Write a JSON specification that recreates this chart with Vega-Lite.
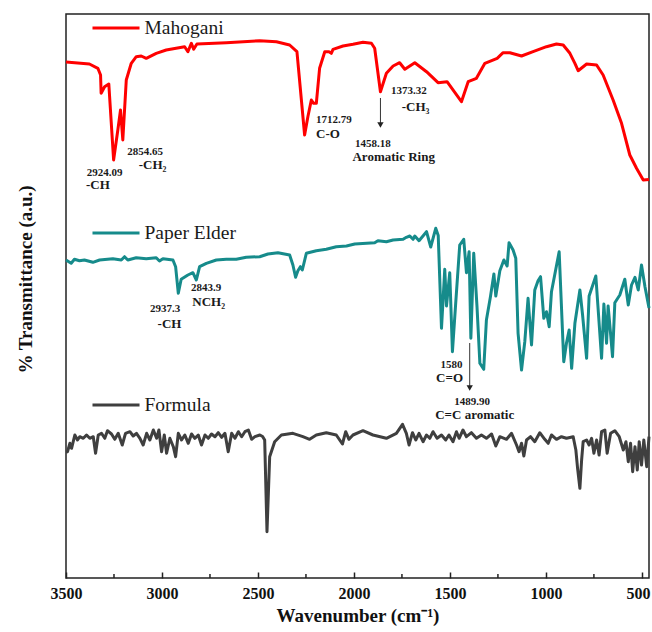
{
  "$schema": "https://vega.github.io/schema/vega-lite/v6.json",
  "width": 583,
  "height": 564,
  "autosize": {"type": "none"},
  "padding": {"left": 66, "top": 14, "right": 3, "bottom": 54},
  "background": "white",
  "config": {
    "view": {"stroke": "#222", "strokeWidth": 1.5},
    "font": "Liberation Serif"
  },
  "datasets": {
    "spec": [
      {"s":"Mahogani","w":3500,"t":516},{"s":"Mahogani","w":3378,"t":514},{"s":"Mahogani","w":3334,"t":509.7},{"s":"Mahogani","w":3320,"t":503},{"s":"Mahogani","w":3317,"t":484.7},{"s":"Mahogani","w":3299,"t":491.3},{"s":"Mahogani","w":3277,"t":494},{"s":"Mahogani","w":3252,"t":418},{"s":"Mahogani","w":3230,"t":448},{"s":"Mahogani","w":3216,"t":468},{"s":"Mahogani","w":3204,"t":438},{"s":"Mahogani","w":3186,"t":498},{"s":"Mahogani","w":3160,"t":514.7},{"s":"Mahogani","w":3134,"t":521.3},{"s":"Mahogani","w":3108,"t":522},{"s":"Mahogani","w":3082,"t":519.7},{"s":"Mahogani","w":3030,"t":524.7},{"s":"Mahogani","w":2978,"t":528},{"s":"Mahogani","w":2882,"t":531.3},{"s":"Mahogani","w":2865,"t":526.3},{"s":"Mahogani","w":2847,"t":534.7},{"s":"Mahogani","w":2835,"t":528.7},{"s":"Mahogani","w":2818,"t":534},{"s":"Mahogani","w":2665,"t":535.3},{"s":"Mahogani","w":2491,"t":537.3},{"s":"Mahogani","w":2404,"t":536.3},{"s":"Mahogani","w":2335,"t":533},{"s":"Mahogani","w":2297,"t":526.3},{"s":"Mahogani","w":2257,"t":443},{"s":"Mahogani","w":2240,"t":461.3},{"s":"Mahogani","w":2222,"t":478},{"s":"Mahogani","w":2210,"t":474.7},{"s":"Mahogani","w":2196,"t":474.7},{"s":"Mahogani","w":2179,"t":509.7},{"s":"Mahogani","w":2152,"t":526.3},{"s":"Mahogani","w":2130,"t":526.3},{"s":"Mahogani","w":2118,"t":524.7},{"s":"Mahogani","w":2109,"t":528.7},{"s":"Mahogani","w":2057,"t":532},{"s":"Mahogani","w":2005,"t":533.7},{"s":"Mahogani","w":1953,"t":535.7},{"s":"Mahogani","w":1909,"t":534.7},{"s":"Mahogani","w":1892,"t":529.7},{"s":"Mahogani","w":1862,"t":486.3},{"s":"Mahogani","w":1831,"t":504.7},{"s":"Mahogani","w":1796,"t":512},{"s":"Mahogani","w":1762,"t":515.3},{"s":"Mahogani","w":1735,"t":508.7},{"s":"Mahogani","w":1683,"t":515.3},{"s":"Mahogani","w":1622,"t":506.3},{"s":"Mahogani","w":1562,"t":495.3},{"s":"Mahogani","w":1515,"t":496.3},{"s":"Mahogani","w":1440,"t":476.3},{"s":"Mahogani","w":1405,"t":496.3},{"s":"Mahogani","w":1362,"t":499.7},{"s":"Mahogani","w":1318,"t":514.7},{"s":"Mahogani","w":1254,"t":519.7},{"s":"Mahogani","w":1223,"t":525.3},{"s":"Mahogani","w":1188,"t":525.3},{"s":"Mahogani","w":1127,"t":522},{"s":"Mahogani","w":1067,"t":526.3},{"s":"Mahogani","w":997,"t":531.3},{"s":"Mahogani","w":945,"t":534},{"s":"Mahogani","w":910,"t":533},{"s":"Mahogani","w":875,"t":524.7},{"s":"Mahogani","w":849,"t":514.7},{"s":"Mahogani","w":832,"t":507.3},{"s":"Mahogani","w":788,"t":514},{"s":"Mahogani","w":736,"t":513},{"s":"Mahogani","w":702,"t":503},{"s":"Mahogani","w":650,"t":478},{"s":"Mahogani","w":606,"t":454.7},{"s":"Mahogani","w":563,"t":423},{"s":"Mahogani","w":528,"t":409.7},{"s":"Mahogani","w":493,"t":398},{"s":"Mahogani","w":463,"t":398.5},
      {"s":"Paper Elder","w":3500,"t":318},{"s":"Paper Elder","w":3473,"t":314.7},{"s":"Paper Elder","w":3456,"t":318.7},{"s":"Paper Elder","w":3430,"t":317.3},{"s":"Paper Elder","w":3404,"t":318},{"s":"Paper Elder","w":3360,"t":315.7},{"s":"Paper Elder","w":3325,"t":318},{"s":"Paper Elder","w":3256,"t":319.3},{"s":"Paper Elder","w":3212,"t":318},{"s":"Paper Elder","w":3195,"t":321.3},{"s":"Paper Elder","w":3178,"t":318},{"s":"Paper Elder","w":3134,"t":320.3},{"s":"Paper Elder","w":3082,"t":319.3},{"s":"Paper Elder","w":3030,"t":320.3},{"s":"Paper Elder","w":3013,"t":317},{"s":"Paper Elder","w":2995,"t":319.3},{"s":"Paper Elder","w":2943,"t":318},{"s":"Paper Elder","w":2929,"t":311.3},{"s":"Paper Elder","w":2915,"t":284.7},{"s":"Paper Elder","w":2900,"t":298.7},{"s":"Paper Elder","w":2865,"t":303},{"s":"Paper Elder","w":2839,"t":305.3},{"s":"Paper Elder","w":2821,"t":298},{"s":"Paper Elder","w":2804,"t":311.3},{"s":"Paper Elder","w":2769,"t":314.7},{"s":"Paper Elder","w":2717,"t":318},{"s":"Paper Elder","w":2665,"t":318.7},{"s":"Paper Elder","w":2613,"t":318.7},{"s":"Paper Elder","w":2561,"t":320.7},{"s":"Paper Elder","w":2491,"t":321.3},{"s":"Paper Elder","w":2448,"t":324},{"s":"Paper Elder","w":2396,"t":325.3},{"s":"Paper Elder","w":2335,"t":323},{"s":"Paper Elder","w":2318,"t":313},{"s":"Paper Elder","w":2304,"t":300.7},{"s":"Paper Elder","w":2292,"t":307.3},{"s":"Paper Elder","w":2279,"t":311.3},{"s":"Paper Elder","w":2269,"t":308},{"s":"Paper Elder","w":2248,"t":324.7},{"s":"Paper Elder","w":2196,"t":327.3},{"s":"Paper Elder","w":2144,"t":328.7},{"s":"Paper Elder","w":2092,"t":331.3},{"s":"Paper Elder","w":2039,"t":332},{"s":"Paper Elder","w":1996,"t":334},{"s":"Paper Elder","w":1892,"t":335.3},{"s":"Paper Elder","w":1875,"t":337.3},{"s":"Paper Elder","w":1831,"t":336.3},{"s":"Paper Elder","w":1796,"t":338},{"s":"Paper Elder","w":1744,"t":338.7},{"s":"Paper Elder","w":1727,"t":340.7},{"s":"Paper Elder","w":1709,"t":342},{"s":"Paper Elder","w":1692,"t":338.7},{"s":"Paper Elder","w":1683,"t":342},{"s":"Paper Elder","w":1661,"t":337.3},{"s":"Paper Elder","w":1622,"t":346.3},{"s":"Paper Elder","w":1600,"t":331},{"s":"Paper Elder","w":1574,"t":349.7},{"s":"Paper Elder","w":1561,"t":342.5},{"s":"Paper Elder","w":1544,"t":249.7},{"s":"Paper Elder","w":1527,"t":308.7},{"s":"Paper Elder","w":1518,"t":272},{"s":"Paper Elder","w":1501,"t":305.3},{"s":"Paper Elder","w":1487,"t":226.3},{"s":"Paper Elder","w":1470,"t":274.7},{"s":"Paper Elder","w":1449,"t":333},{"s":"Paper Elder","w":1428,"t":338.7},{"s":"Paper Elder","w":1414,"t":305.3},{"s":"Paper Elder","w":1400,"t":326.3},{"s":"Paper Elder","w":1391,"t":239.7},{"s":"Paper Elder","w":1376,"t":324.7},{"s":"Paper Elder","w":1359,"t":271.3},{"s":"Paper Elder","w":1344,"t":214.7},{"s":"Paper Elder","w":1324,"t":208.7},{"s":"Paper Elder","w":1310,"t":258},{"s":"Paper Elder","w":1289,"t":281.3},{"s":"Paper Elder","w":1271,"t":304},{"s":"Paper Elder","w":1261,"t":282},{"s":"Paper Elder","w":1240,"t":307.3},{"s":"Paper Elder","w":1219,"t":318},{"s":"Paper Elder","w":1202,"t":312},{"s":"Paper Elder","w":1192,"t":335.3},{"s":"Paper Elder","w":1171,"t":328},{"s":"Paper Elder","w":1157,"t":319.7},{"s":"Paper Elder","w":1145,"t":244.7},{"s":"Paper Elder","w":1127,"t":208},{"s":"Paper Elder","w":1110,"t":236.3},{"s":"Paper Elder","w":1093,"t":279.7},{"s":"Paper Elder","w":1075,"t":233},{"s":"Paper Elder","w":1058,"t":288},{"s":"Paper Elder","w":1041,"t":297.3},{"s":"Paper Elder","w":1028,"t":301.3},{"s":"Paper Elder","w":1011,"t":259.7},{"s":"Paper Elder","w":997,"t":266.3},{"s":"Paper Elder","w":983,"t":251.3},{"s":"Paper Elder","w":971,"t":286.3},{"s":"Paper Elder","w":931,"t":326.3},{"s":"Paper Elder","w":907,"t":216.3},{"s":"Paper Elder","w":893,"t":234.7},{"s":"Paper Elder","w":879,"t":248},{"s":"Paper Elder","w":866,"t":209.7},{"s":"Paper Elder","w":849,"t":254.7},{"s":"Paper Elder","w":823,"t":288},{"s":"Paper Elder","w":809,"t":263},{"s":"Paper Elder","w":788,"t":219.7},{"s":"Paper Elder","w":775,"t":282},{"s":"Paper Elder","w":740,"t":302},{"s":"Paper Elder","w":710,"t":219.7},{"s":"Paper Elder","w":698,"t":274},{"s":"Paper Elder","w":684,"t":234.7},{"s":"Paper Elder","w":676,"t":272},{"s":"Paper Elder","w":663,"t":244},{"s":"Paper Elder","w":653,"t":221.3},{"s":"Paper Elder","w":641,"t":275.3},{"s":"Paper Elder","w":615,"t":283},{"s":"Paper Elder","w":589,"t":298.7},{"s":"Paper Elder","w":571,"t":273},{"s":"Paper Elder","w":554,"t":293},{"s":"Paper Elder","w":536,"t":300.7},{"s":"Paper Elder","w":519,"t":288},{"s":"Paper Elder","w":502,"t":313},{"s":"Paper Elder","w":484,"t":291.3},{"s":"Paper Elder","w":463,"t":270},
      {"s":"Formula","w":3500,"t":126},{"s":"Formula","w":3492,"t":126.3},{"s":"Formula","w":3480,"t":134.7},{"s":"Formula","w":3471,"t":129.7},{"s":"Formula","w":3454,"t":143},{"s":"Formula","w":3440,"t":138},{"s":"Formula","w":3428,"t":141.3},{"s":"Formula","w":3410,"t":139.7},{"s":"Formula","w":3393,"t":143},{"s":"Formula","w":3376,"t":139.7},{"s":"Formula","w":3358,"t":141.3},{"s":"Formula","w":3346,"t":124.7},{"s":"Formula","w":3332,"t":143},{"s":"Formula","w":3315,"t":144.7},{"s":"Formula","w":3298,"t":139.7},{"s":"Formula","w":3284,"t":147.3},{"s":"Formula","w":3263,"t":144},{"s":"Formula","w":3246,"t":138.7},{"s":"Formula","w":3228,"t":144.7},{"s":"Formula","w":3207,"t":133},{"s":"Formula","w":3190,"t":144.7},{"s":"Formula","w":3167,"t":146.3},{"s":"Formula","w":3150,"t":142},{"s":"Formula","w":3133,"t":144.7},{"s":"Formula","w":3115,"t":139.7},{"s":"Formula","w":3098,"t":133},{"s":"Formula","w":3080,"t":144.7},{"s":"Formula","w":3063,"t":138},{"s":"Formula","w":3045,"t":148},{"s":"Formula","w":3028,"t":139.7},{"s":"Formula","w":3016,"t":148},{"s":"Formula","w":3002,"t":126.3},{"s":"Formula","w":2988,"t":143},{"s":"Formula","w":2976,"t":124.7},{"s":"Formula","w":2959,"t":139.7},{"s":"Formula","w":2941,"t":131.3},{"s":"Formula","w":2929,"t":121.3},{"s":"Formula","w":2915,"t":144.7},{"s":"Formula","w":2898,"t":138},{"s":"Formula","w":2881,"t":143},{"s":"Formula","w":2863,"t":134.7},{"s":"Formula","w":2846,"t":144},{"s":"Formula","w":2829,"t":139.7},{"s":"Formula","w":2811,"t":143},{"s":"Formula","w":2794,"t":133},{"s":"Formula","w":2776,"t":143},{"s":"Formula","w":2759,"t":139.7},{"s":"Formula","w":2742,"t":144},{"s":"Formula","w":2724,"t":141.3},{"s":"Formula","w":2707,"t":145.3},{"s":"Formula","w":2689,"t":140.7},{"s":"Formula","w":2672,"t":144.7},{"s":"Formula","w":2655,"t":126.3},{"s":"Formula","w":2637,"t":144.7},{"s":"Formula","w":2620,"t":139.7},{"s":"Formula","w":2602,"t":146.3},{"s":"Formula","w":2585,"t":141.3},{"s":"Formula","w":2568,"t":146.3},{"s":"Formula","w":2550,"t":148},{"s":"Formula","w":2533,"t":138.7},{"s":"Formula","w":2516,"t":141.3},{"s":"Formula","w":2490,"t":143},{"s":"Formula","w":2476,"t":141.5},{"s":"Formula","w":2465,"t":138},{"s":"Formula","w":2453,"t":46.3},{"s":"Formula","w":2439,"t":121.3},{"s":"Formula","w":2413,"t":136.3},{"s":"Formula","w":2378,"t":143},{"s":"Formula","w":2318,"t":144.7},{"s":"Formula","w":2266,"t":141.3},{"s":"Formula","w":2231,"t":138.7},{"s":"Formula","w":2196,"t":143},{"s":"Formula","w":2144,"t":145.3},{"s":"Formula","w":2092,"t":143},{"s":"Formula","w":2060,"t":134},{"s":"Formula","w":2043,"t":146.3},{"s":"Formula","w":2026,"t":138.7},{"s":"Formula","w":2005,"t":143},{"s":"Formula","w":1953,"t":147.3},{"s":"Formula","w":1901,"t":143},{"s":"Formula","w":1831,"t":139.7},{"s":"Formula","w":1779,"t":144.7},{"s":"Formula","w":1747,"t":153.7},{"s":"Formula","w":1727,"t":144.7},{"s":"Formula","w":1713,"t":133},{"s":"Formula","w":1695,"t":145.3},{"s":"Formula","w":1678,"t":138},{"s":"Formula","w":1661,"t":144.7},{"s":"Formula","w":1640,"t":136.3},{"s":"Formula","w":1622,"t":143},{"s":"Formula","w":1605,"t":139.7},{"s":"Formula","w":1588,"t":146.3},{"s":"Formula","w":1567,"t":139.7},{"s":"Formula","w":1544,"t":143},{"s":"Formula","w":1522,"t":138},{"s":"Formula","w":1505,"t":143},{"s":"Formula","w":1484,"t":136.3},{"s":"Formula","w":1466,"t":146.3},{"s":"Formula","w":1452,"t":139.7},{"s":"Formula","w":1432,"t":148},{"s":"Formula","w":1414,"t":141.3},{"s":"Formula","w":1388,"t":145.3},{"s":"Formula","w":1362,"t":139.7},{"s":"Formula","w":1336,"t":143},{"s":"Formula","w":1310,"t":139.7},{"s":"Formula","w":1283,"t":144},{"s":"Formula","w":1261,"t":132},{"s":"Formula","w":1240,"t":141.3},{"s":"Formula","w":1205,"t":138.7},{"s":"Formula","w":1179,"t":144.7},{"s":"Formula","w":1153,"t":133},{"s":"Formula","w":1140,"t":126.3},{"s":"Formula","w":1127,"t":134.7},{"s":"Formula","w":1115,"t":122},{"s":"Formula","w":1101,"t":138},{"s":"Formula","w":1080,"t":141.3},{"s":"Formula","w":1058,"t":136.3},{"s":"Formula","w":1032,"t":145.3},{"s":"Formula","w":1006,"t":138.7},{"s":"Formula","w":988,"t":134.7},{"s":"Formula","w":971,"t":143},{"s":"Formula","w":945,"t":138.7},{"s":"Formula","w":919,"t":141.3},{"s":"Formula","w":893,"t":139.7},{"s":"Formula","w":858,"t":141.3},{"s":"Formula","w":844,"t":128},{"s":"Formula","w":835,"t":109.7},{"s":"Formula","w":823,"t":89.7},{"s":"Formula","w":814,"t":118},{"s":"Formula","w":806,"t":136.3},{"s":"Formula","w":788,"t":138},{"s":"Formula","w":775,"t":133},{"s":"Formula","w":762,"t":139.7},{"s":"Formula","w":750,"t":124.7},{"s":"Formula","w":736,"t":138},{"s":"Formula","w":723,"t":123},{"s":"Formula","w":710,"t":146.3},{"s":"Formula","w":693,"t":148},{"s":"Formula","w":681,"t":124.7},{"s":"Formula","w":663,"t":144.7},{"s":"Formula","w":641,"t":147.3},{"s":"Formula","w":618,"t":141.3},{"s":"Formula","w":597,"t":128},{"s":"Formula","w":583,"t":136.3},{"s":"Formula","w":571,"t":116.3},{"s":"Formula","w":559,"t":134.7},{"s":"Formula","w":548,"t":106.3},{"s":"Formula","w":536,"t":131.3},{"s":"Formula","w":524,"t":108},{"s":"Formula","w":514,"t":136.3},{"s":"Formula","w":502,"t":113},{"s":"Formula","w":490,"t":138},{"s":"Formula","w":475,"t":111.3},{"s":"Formula","w":463,"t":141.3}
    ],
    "leg": [
      {"s":"Mahogani","x1":3362,"x2":3117,"tx":3091,"y":550},
      {"s":"Paper Elder","x1":3362,"x2":3117,"tx":3091,"y":345},
      {"s":"Formula","x1":3362,"x2":3117,"tx":3091,"y":173}
    ],
    "ann": [
      {"txt":"2924.09","kind":"num","x":3299,"y":405},
      {"txt":"2854.65","kind":"num","x":3088,"y":426},
      {"txt":"1712.79","kind":"num","x":2105,"y":458},
      {"txt":"1458.18","kind":"num","x":1902,"y":434},
      {"txt":"1373.32","kind":"num","x":1714,"y":487},
      {"txt":"2937.3","kind":"num","x":2984,"y":269},
      {"txt":"2843.9","kind":"num","x":2770,"y":290},
      {"txt":"1580","kind":"num","x":1492,"y":213},
      {"txt":"1489.90","kind":"num","x":1384,"y":176},
      {"txt":"-CH","kind":"lab","x":3334,"y":393},
      {"txt":"-CH₂","kind":"lab","x":3049,"y":413},
      {"txt":"C-O","kind":"lab","x":2135,"y":444},
      {"txt":"Aromatic Ring","kind":"lab","x":1793,"y":421},
      {"txt":"-CH₃","kind":"lab","x":1679,"y":471},
      {"txt":"-CH","kind":"lab","x":2961,"y":254},
      {"txt":"NCH₂","kind":"lab","x":2757,"y":276},
      {"txt":"C=O","kind":"lab","x":1502,"y":200},
      {"txt":"C=C aromatic","kind":"lab","x":1371,"y":163}
    ],
    "arr": [
      {"x":1862,"y1":480,"y2":453},
      {"x":1397,"y1":235,"y2":190}
    ],
    "minor": [
      {"x":750},{"x":1250},{"x":1750},{"x":2250},{"x":2750},{"x":3250}
    ]
  },
  "layer": [
    {
      "data": {"name": "spec"},
      "mark": {"type": "line", "strokeWidth": 3, "strokeJoin": "round"},
      "encoding": {
        "x": {
          "field": "w", "type": "quantitative",
          "scale": {"domain": [463, 3500], "reverse": true, "nice": false, "zero": false},
          "axis": {
            "title": "Wavenumber (cm⁻¹)",
            "values": [500, 1000, 1500, 2000, 2500, 3000, 3500],
            "format": "d",
            "domain": false,
            "grid": false,
            "tickSize": -6,
            "tickWidth": 1.5,
            "tickColor": "#222",
            "labelPadding": 13,
            "labelFont": "Liberation Serif",
            "labelFontWeight": "bold",
            "labelFontSize": 16,
            "labelColor": "#111",
            "labelFlush": false,
            "labelOffset": {"condition": {"test": "datum.value === 500", "value": -4}, "value": 0},
            "titleFont": "Liberation Serif",
            "titleFontWeight": "bold",
            "titleFontSize": 19,
            "titleColor": "#111",
            "titlePadding": 5
          }
        },
        "y": {
          "field": "t", "type": "quantitative",
          "scale": {"domain": [0, 564], "nice": false, "zero": false},
          "axis": {
            "title": "% Transmittance (a.u.)",
            "domain": false,
            "ticks": false,
            "labels": false,
            "grid": false,
            "titleFont": "Liberation Serif",
            "titleFontWeight": "bold",
            "titleFontSize": 19,
            "titleColor": "#111",
            "titleAngle": 270,
            "titleAlign": "center",
            "titleBaseline": "middle",
            "titleX": -41,
            "titleY": 265
          }
        },
        "color": {
          "field": "s", "type": "nominal",
          "scale": {"domain": ["Mahogani", "Paper Elder", "Formula"], "range": ["#ff0000", "#168b8b", "#3f3f3f"]},
          "legend": null
        }
      }
    },
    {
      "data": {"name": "leg"},
      "mark": {"type": "rule", "strokeWidth": 3},
      "encoding": {
        "x": {"field": "x1", "type": "quantitative"},
        "x2": {"field": "x2"},
        "y": {"field": "y", "type": "quantitative"},
        "color": {"field": "s", "type": "nominal", "legend": null}
      }
    },
    {
      "data": {"name": "leg"},
      "mark": {"type": "text", "align": "left", "baseline": "middle", "font": "Liberation Serif", "fontSize": 19.5, "color": "#1a1a1a"},
      "encoding": {
        "x": {"field": "tx", "type": "quantitative"},
        "y": {"field": "y", "type": "quantitative"},
        "text": {"field": "s"}
      }
    },
    {
      "data": {"name": "ann"},
      "transform": [{"filter": "datum.kind === 'num'"}],
      "mark": {"type": "text", "align": "center", "baseline": "middle", "font": "Liberation Serif", "fontWeight": "bold", "fontSize": 11, "color": "#1a1a1a"},
      "encoding": {
        "x": {"field": "x", "type": "quantitative"},
        "y": {"field": "y", "type": "quantitative"},
        "text": {"field": "txt"}
      }
    },
    {
      "data": {"name": "ann"},
      "transform": [{"filter": "datum.kind === 'lab'"}],
      "mark": {"type": "text", "align": "center", "baseline": "middle", "font": "Liberation Serif", "fontWeight": "bold", "fontSize": 13, "color": "#1a1a1a"},
      "encoding": {
        "x": {"field": "x", "type": "quantitative"},
        "y": {"field": "y", "type": "quantitative"},
        "text": {"field": "txt"}
      }
    },
    {
      "data": {"name": "arr"},
      "mark": {"type": "rule", "strokeWidth": 1, "color": "#333"},
      "encoding": {
        "x": {"field": "x", "type": "quantitative"},
        "y": {"field": "y1", "type": "quantitative"},
        "y2": {"field": "y2"}
      }
    },
    {
      "data": {"name": "arr"},
      "mark": {"type": "point", "shape": "triangle-down", "filled": true, "size": 40, "color": "#222", "opacity": 1},
      "encoding": {
        "x": {"field": "x", "type": "quantitative"},
        "y": {"field": "y2", "type": "quantitative"}
      }
    },
    {
      "data": {"name": "minor"},
      "mark": {"type": "rule", "strokeWidth": 1.5, "color": "#222"},
      "encoding": {
        "x": {"field": "x", "type": "quantitative"},
        "y": {"datum": 0},
        "y2": {"datum": 4}
      }
    }
  ]
}
